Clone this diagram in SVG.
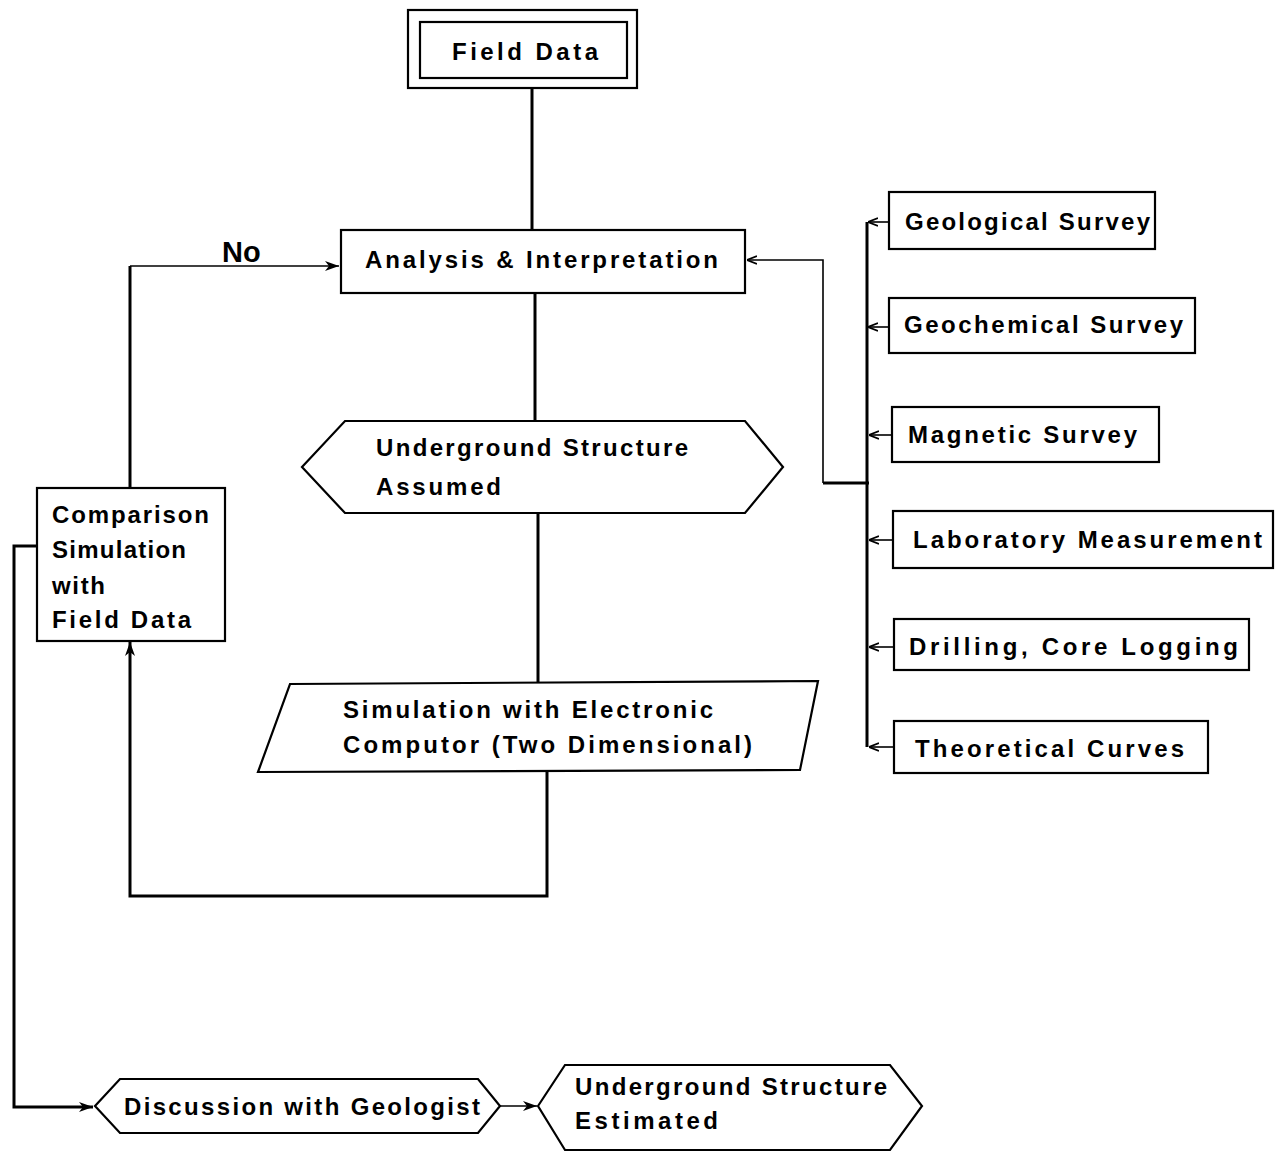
<svg xmlns="http://www.w3.org/2000/svg" width="1286" height="1154" viewBox="0 0 1286 1154">
<style>
.n{fill:#fff;stroke:#000;stroke-width:2.2}
.t{font-family:"Liberation Sans",Arial,sans-serif;font-weight:bold;font-size:24px;fill:#000}
.c{fill:none;stroke:#000;stroke-width:3}
.s{fill:none;stroke:#000;stroke-width:1.6}
</style>
<defs>
<marker id="a" viewBox="0 0 10 10" refX="10" refY="5" markerWidth="10" markerHeight="10" markerUnits="userSpaceOnUse" orient="auto">
<path d="M0,1 L10,5 L0,9" fill="none" stroke="#000" stroke-width="1.8"/>
</marker>
<marker id="b" viewBox="0 0 14 12" refX="14" refY="6" markerWidth="14" markerHeight="12" markerUnits="userSpaceOnUse" orient="auto">
<path d="M0,1 L14,6 L0,11 L4,6 Z" fill="#000"/>
</marker>
</defs>
<rect width="1286" height="1154" fill="#fff"/>

<g id="connectors">
<path class="c" d="M532,88 V230"/>
<path class="c" d="M535,293 V421"/>
<path class="c" d="M538,513 V683"/>
<path class="c" d="M547,771 V896 H130 V642" marker-end="url(#b)"/>
<path class="c" d="M130,488 V266" stroke-width="2.4"/>
<path class="s" d="M130,266 H339" marker-end="url(#b)"/>
<path class="c" d="M37,546 H14 V1107 H93" marker-end="url(#b)"/>
<path class="s" d="M500,1106 H537" marker-end="url(#b)"/>
<path class="s" d="M823,483 V260 H747" marker-end="url(#a)"/>
<path class="c" d="M823,483 H869"/>
<path class="c" d="M867,222 V747"/>
<path class="s" d="M889,222 H868" marker-end="url(#a)"/>
<path class="s" d="M889,327 H868" marker-end="url(#a)"/>
<path class="s" d="M892,435 H869" marker-end="url(#a)"/>
<path class="s" d="M893,540 H869" marker-end="url(#a)"/>
<path class="s" d="M894,647 H869" marker-end="url(#a)"/>
<path class="s" d="M894,747 H869" marker-end="url(#a)"/>
<text class="t" x="222" y="262" style="font-size:29px">No</text>
</g>

<g id="field-data">
<rect class="n" x="408" y="10" width="229" height="78" stroke-width="3"/>
<rect class="n" x="420" y="22" width="207" height="56"/>
<text class="t" x="452" y="60" textLength="146" lengthAdjust="spacing">Field Data</text>
</g>

<g id="analysis">
<rect class="n" x="341" y="230" width="404" height="63"/>
<text class="t" x="365" y="268" textLength="353" lengthAdjust="spacing">Analysis &amp; Interpretation</text>
</g>

<g id="assumed">
<polygon class="n" points="302,467 345,421 745,421 783,467 745,513 345,513"/>
<text class="t" x="376" y="456" textLength="312" lengthAdjust="spacing">Underground Structure</text>
<text class="t" x="376" y="495" textLength="125" lengthAdjust="spacing">Assumed</text>
</g>

<g id="simulation">
<polygon class="n" points="290,684 818,681 800,770 258,772"/>
<text class="t" x="343" y="718" textLength="370" lengthAdjust="spacing">Simulation with Electronic</text>
<text class="t" x="343" y="753" textLength="409" lengthAdjust="spacing">Computor (Two Dimensional)</text>
</g>

<g id="comparison">
<rect class="n" x="37" y="488" width="188" height="153" stroke-width="2.6"/>
<text class="t" x="52" y="523" textLength="157" lengthAdjust="spacing">Comparison</text>
<text class="t" x="52" y="558" textLength="134" lengthAdjust="spacing">Simulation</text>
<text class="t" x="52" y="594" textLength="53" lengthAdjust="spacing">with</text>
<text class="t" x="52" y="628" textLength="139" lengthAdjust="spacing">Field Data</text>
</g>

<g id="geological">
<rect class="n" x="889" y="192" width="266" height="57"/>
<text class="t" x="905" y="230" textLength="245" lengthAdjust="spacing">Geological Survey</text>
</g>
<g id="geochemical">
<rect class="n" x="889" y="298" width="306" height="55"/>
<text class="t" x="904" y="333" textLength="279" lengthAdjust="spacing">Geochemical Survey</text>
</g>
<g id="magnetic">
<rect class="n" x="892" y="407" width="267" height="55"/>
<text class="t" x="908" y="443" textLength="229" lengthAdjust="spacing">Magnetic Survey</text>
</g>
<g id="laboratory">
<rect class="n" x="893" y="511" width="380" height="57"/>
<text class="t" x="913" y="548" textLength="349" lengthAdjust="spacing">Laboratory Measurement</text>
</g>
<g id="drilling">
<rect class="n" x="894" y="619" width="355" height="51"/>
<text class="t" x="909" y="655" textLength="329" lengthAdjust="spacing">Drilling, Core Logging</text>
</g>
<g id="theoretical">
<rect class="n" x="894" y="721" width="314" height="52"/>
<text class="t" x="915" y="757" textLength="269" lengthAdjust="spacing">Theoretical Curves</text>
</g>

<g id="discussion">
<polygon class="n" points="95,1106 120,1079 478,1079 500,1106 478,1133 120,1133"/>
<text class="t" x="124" y="1115" textLength="356" lengthAdjust="spacing">Discussion with Geologist</text>
</g>

<g id="estimated">
<polygon class="n" points="538,1106 565,1065 890,1065 922,1106 890,1150 565,1150"/>
<text class="t" x="575" y="1095" textLength="312" lengthAdjust="spacing">Underground Structure</text>
<text class="t" x="575" y="1129" textLength="143" lengthAdjust="spacing">Estimated</text>
</g>
</svg>
